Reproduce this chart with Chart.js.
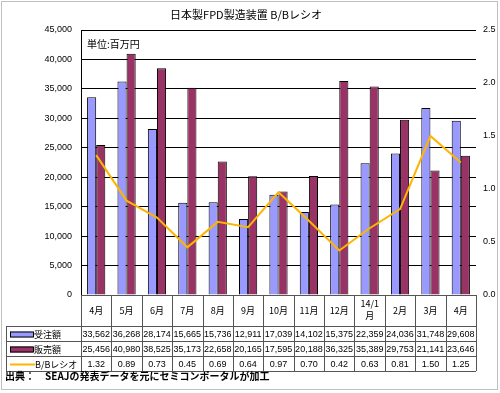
<!DOCTYPE html>
<html>
<head>
<meta charset="utf-8">
<script src="https://cdn.jsdelivr.net/npm/chart.js@4.4.1/dist/chart.umd.min.js"></script>
<style>
  html, body { margin: 0; padding: 0; background: #fff; }
  #wrap { position: relative; width: 500px; height: 393px; }
  #wrap canvas { position: absolute; left: 0; top: 0; }
  #overlay { pointer-events: none; }
</style>
</head>
<body>
<div id="wrap">
  <canvas id="c" width="500" height="393"></canvas>
  <canvas id="overlay" width="500" height="393"></canvas>
</div>
<script>
// data
const months = ['4月', '5月', '6月', '7月', '8月', '9月', '10月', '11月', '12月', ['14/1', '月'], '2月', '3月', '4月'];
const orders = [33562, 36268, 28174, 15665, 15736, 12911, 17039, 14102, 15375, 22359, 24036, 31748, 29608];
const sales = [25456, 40980, 38525, 35173, 22658, 20165, 17595, 20188, 36325, 35389, 29753, 21141, 23646];
const bbRatio = [1.32, 0.89, 0.73, 0.45, 0.69, 0.64, 0.97, 0.70, 0.42, 0.63, 0.81, 1.50, 1.25];
const seriesNames = ['受注額', '販売額', 'B/Bレシオ'];

const FONT = '"Liberation Sans", "Noto Sans CJK JP", sans-serif';
const JP = '"Noto Sans CJK JP", "Liberation Sans", sans-serif';
const BLUE = '#9999FF', PURPLE = '#993366', ORANGE = '#FFB400';
const GRID = '#000000';
const TABLE = '#555555';

const fmt = v => v.toLocaleString('en-US');

// title, unit note, data table and source line go on the overlay canvas
const tablePlugin = {
    id: 'dataTable',
    afterDraw(chart) {
        const cv = document.getElementById('overlay');
        const ctx = cv.getContext('2d');
        ctx.clearRect(0, 0, cv.width, cv.height);
        const area = chart.chartArea;
        const x = chart.scales.x;
        const colW = x.getPixelForValue(1) - x.getPixelForValue(0);
        const left = area.left, right = area.right;
        const top = area.bottom;
        const rowTop = top + 31, rowH = 15;
        const bottom = rowTop + rowH * 3;
        const tabLeft = 6;

        // outer frame
        ctx.strokeStyle = '#c0c0c0';
        ctx.lineWidth = 1;
        ctx.strokeRect(1.5, 1.5, 496, 388);

        // title + unit
        ctx.fillStyle = '#000';
        ctx.textBaseline = 'middle';
        ctx.textAlign = 'center';
        ctx.font = '11px ' + JP;
        ctx.fillText('日本製FPD製造装置 B/Bレシオ', 246, 15);
        ctx.textAlign = 'left';
        ctx.font = '10px ' + JP;
        ctx.fillText('単位:百万円', 87, 44);

        // table lines
        ctx.strokeStyle = TABLE;
        ctx.beginPath();
        ctx.moveTo(left, Math.round(top) + 0.5);
        ctx.lineTo(right, Math.round(top) + 0.5);
        for (let i = 0; i <= months.length; i++) {
            const px = Math.round(left + i * colW) + 0.5;
            ctx.moveTo(px, top);
            ctx.lineTo(px, bottom);
        }
        ctx.moveTo(tabLeft + 0.5, rowTop);
        ctx.lineTo(tabLeft + 0.5, bottom);
        for (let r = 0; r <= 3; r++) {
            const py = rowTop + r * rowH + 0.5;
            ctx.moveTo(tabLeft, py);
            ctx.lineTo(right, py);
        }
        ctx.stroke();

        // header labels
        ctx.textAlign = 'center';
        ctx.font = '9px ' + JP;
        months.forEach((m, i) => {
            const cx = x.getPixelForValue(i);
            if (Array.isArray(m)) {
                ctx.fillText(m[0], cx, top + 9);
                ctx.fillText(m[1], cx, top + 21);
            } else {
                ctx.fillText(m, cx, top + 16);
            }
        });

        // rows
        const rows = [orders.map(fmt), sales.map(fmt), bbRatio.map(v => v.toFixed(2))];
        ctx.font = '9px ' + FONT;
        rows.forEach((vals, r) => {
            const cy = rowTop + r * rowH + rowH / 2 + 1;
            vals.forEach((v, i) => ctx.fillText(v, x.getPixelForValue(i), cy));
        });

        // legend cells
        const swatch = [BLUE, PURPLE];
        for (let r = 0; r < 3; r++) {
            const cy = rowTop + r * rowH + rowH / 2 + 1;
            if (r < 2) {
                ctx.fillStyle = swatch[r];
                ctx.fillRect(10, cy - 3, 23, 6);
                ctx.strokeStyle = '#000';
                ctx.strokeRect(10.5, cy - 2.5, 23, 5);
            } else {
                ctx.strokeStyle = ORANGE;
                ctx.lineWidth = 2;
                ctx.beginPath();
                ctx.moveTo(10, cy);
                ctx.lineTo(35, cy);
                ctx.stroke();
                ctx.lineWidth = 1;
            }
            ctx.fillStyle = '#000';
            ctx.textAlign = 'left';
            ctx.font = '9px ' + JP;
            ctx.fillText(seriesNames[r], r < 2 ? 34 : 35, cy);
        }

        // source
        ctx.font = 'bold 10px ' + JP;
        ctx.fillText('出典：　SEAJの発表データを元にセミコンポータルが加工', 5, 376);
    }
};

new Chart(document.getElementById('c'), {
    type: 'bar',
    data: {
        labels: months,
        datasets: [
            {
                type: 'line',
                label: seriesNames[2],
                data: bbRatio,
                yAxisID: 'y1',
                borderColor: ORANGE,
                borderWidth: 2,
                pointRadius: 0,
                tension: 0,
                order: 0
            },
            {
                label: seriesNames[0],
                data: orders,
                backgroundColor: BLUE,
                borderColor: '#000',
                borderWidth: 1,
                order: 1
            },
            {
                label: seriesNames[1],
                data: sales,
                backgroundColor: PURPLE,
                borderColor: '#000',
                borderWidth: 1,
                order: 1
            }
        ]
    },
    options: {
        responsive: false,
        animation: false,
        layout: { padding: { top: 30, left: 0, right: 0, bottom: 0 } },
        datasets: { bar: { categoryPercentage: 0.6, barPercentage: 1.0 } },
        plugins: {
            legend: { display: false },
            title: { display: false },
            tooltip: { enabled: false }
        },
        scales: {
            x: {
                ticks: { display: false },
                grid: { display: false },
                border: { display: false },
                afterFit(scale) { scale.height = 98; }
            },
            y: {
                position: 'left',
                min: 0,
                max: 45000,
                ticks: {
                    stepSize: 5000,
                    padding: 9,
                    color: '#000',
                    font: { family: FONT, size: 9 },
                    callback: v => fmt(v)
                },
                grid: { color: GRID, lineWidth: 1, drawTicks: false },
                border: { display: true, color: GRID },
                afterFit(scale) { scale.width = 81; }
            },
            y1: {
                position: 'right',
                min: 0,
                max: 2.5,
                ticks: {
                    stepSize: 0.5,
                    padding: 7,
                    color: '#000',
                    font: { family: FONT, size: 9 },
                    callback: v => v.toFixed(1)
                },
                grid: { drawOnChartArea: false, drawTicks: false },
                border: { display: false },
                afterFit(scale) { scale.width = 24; }
            }
        }
    },
    plugins: [tablePlugin]
});
</script>
</body>
</html>
